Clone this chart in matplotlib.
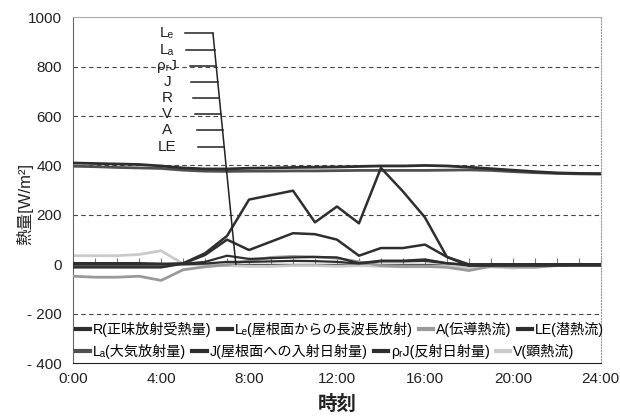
import matplotlib
matplotlib.use("Agg")
import matplotlib.pyplot as plt
import numpy as np

plt.rcParams['font.family'] = ['Liberation Sans', 'Noto Sans CJK JP', 'DejaVu Sans']

# 時刻 (0:00 ～ 24:00, 1時間ごと)
hours = np.arange(0, 25)

# 各熱量 [W/m2]
Le = [410, 408, 406, 404, 398, 390, 386, 386, 389, 390, 392, 393, 394,
      396, 398, 398, 400, 398, 393, 387, 381, 375, 370, 368, 367]
La = [397, 395, 392, 390, 388, 381, 377, 376, 377, 377, 378, 378, 379,
      380, 380, 380, 380, 381, 382, 380, 375, 371, 368, 366, 365]
J = [0, 0, 0, 0, 0, 4, 45, 115, 262, 280, 298, 170, 234,
     166, 390, 295, 190, 30, 0, 0, 0, 0, 0, 0, 0]
R = [-12, -12, -12, -12, -12, 3, 38, 100, 58, 92, 126, 122, 100,
     35, 66, 66, 80, 30, -5, -5, -5, -5, -5, -5, -5]
rhoJ = [0, 0, 0, 0, 0, 0, 3, 10, 10, 12, 14, 13, 10,
        3, 12, 12, 14, 4, 0, 0, 0, 0, 0, 0, 0]
LE = [5, 5, 5, 5, 3, 2, 10, 35, 22, 25, 28, 30, 28,
      5, 15, 15, 20, 5, -5, -3, 0, 0, 0, 0, 0]
A = [-48, -52, -52, -48, -65, -22, -10, -2, 15, 28, 32, 30, 25,
     10, -5, -8, -8, -12, -25, -8, -10, -12, -5, 0, 0]
V = [35, 35, 35, 40, 55, 2, -5, -5, -8, -8, -5, -5, -8,
     -5, -8, -10, -10, -5, -15, -10, -15, -8, 0, 0, 0]

dark = '#2e2e2e'
mid = '#505050'
gray = '#9a9a9a'
light = '#cacaca'

fig = plt.figure(figsize=(6.2, 4.18), dpi=100)
ax = fig.add_axes([0.118, 0.131, 0.851, 0.828])

ax.set_xlim(0, 24)
ax.set_ylim(-400, 1000)

# 破線の目盛線
for yv in [-200, 200, 400, 600, 800]:
    ax.axhline(yv, color='#444444', lw=0.8, ls=(0, (4, 3)), zorder=1)

# 0 の横軸と時刻の目盛
ax.axhline(0, color='#555555', lw=1.0, zorder=1)
ax.plot(hours, np.zeros(len(hours)), ls='none', marker=2, ms=4,
        mew=0.8, color='#777777', zorder=1)

lines = {}
lines['V'] = ax.plot(hours, V, color=light, lw=2.0, zorder=2)[0]
lines['A'] = ax.plot(hours, A, color=gray, lw=2.0, zorder=3)[0]
lines['LE'] = ax.plot(hours, LE, color=dark, lw=1.6, zorder=4)[0]
lines['rhoJ'] = ax.plot(hours, rhoJ, color=dark, lw=1.6, zorder=4)[0]
lines['La'] = ax.plot(hours, La, color=mid, lw=2.0, zorder=4)[0]
lines['Le'] = ax.plot(hours, Le, color=dark, lw=2.0, zorder=5)[0]
lines['J'] = ax.plot(hours, J, color=dark, lw=1.8, zorder=5)[0]
lines['R'] = ax.plot(hours, R, color=dark, lw=1.8, zorder=5)[0]

# 系列名の引き出し線
names = ['Lₑ', 'Lₐ', 'ρᵣJ', 'J', 'R', 'V', 'A', 'LE']
top = (6.36, 934)
foot = (7.4, 0)
ax.plot([top[0], foot[0]], [top[1], foot[1]], color='#222222', lw=1.1, zorder=6)
for i, name in enumerate(names):
    yv = 934 - i * 65.4
    xe = top[0] + (top[1] - yv) / top[1] * (foot[0] - top[0])
    xs = 5.1 + i * 0.02 if i < 2 else 5.3 + (i - 2) * 0.08
    ax.plot([xs, xe], [yv, yv], color='#222222', lw=1.1, zorder=6)
    ax.text(4.27, yv, name, ha='center', va='center', fontsize=11,
            color='#222222', zorder=6)

# 凡例 (2段)
row1 = [('R', 'R(正味放射受熱量)'), ('Le', 'Lₑ(屋根面からの長波長放射)'),
        ('A', 'A(伝導熱流)'), ('LE', 'LE(潜熱流)')]
row2 = [('La', 'Lₐ(大気放射量)'), ('J', 'J(屋根面への入射日射量)'),
        ('rhoJ', 'ρᵣJ(反射日射量)'), ('V', 'V(顕熱流)')]
legs = []
for row, yl in [(row1, 0.097), (row2, 0.033)]:
    hs = [plt.Line2D([], [], color=lines[k].get_color(), lw=3) for k, _ in row]
    leg = ax.legend(hs, [t for _, t in row], ncol=4, loc='center left',
                    bbox_to_anchor=(0.0, yl), frameon=False, fontsize=10.2,
                    handlelength=1.0, handletextpad=0.2, columnspacing=0.45,
                    borderpad=0, borderaxespad=0.2)
    legs.append(leg)
ax.add_artist(legs[0])

ax.set_xticks([0, 4, 8, 12, 16, 20, 24])
ax.set_xticklabels(['0:00', '4:00', '8:00', '12:00', '16:00', '20:00', '24:00'])
ax.set_yticks([-400, -200, 0, 200, 400, 600, 800, 1000])
ax.set_yticklabels(['- 400', '- 200', '0', '200', '400', '600', '800', '1000'])
ax.tick_params(axis='both', length=0, labelsize=11, colors='#222222')
ax.tick_params(axis='x', pad=6)
ax.tick_params(axis='y', pad=8)

ax.set_xlabel('時刻', fontsize=14, fontweight='bold', color='#222222')
ax.xaxis.set_label_coords(0.5, -0.092)
ax.set_ylabel('熱量[W/m²]', fontsize=12, color='#222222')
ax.yaxis.set_label_coords(-0.075, 0.46)

ax.spines['left'].set_color('#666666')
ax.spines['bottom'].set_color('#222222')
ax.spines['top'].set_color('#aaaaaa')
ax.spines['top'].set_linewidth(0.8)
ax.spines['right'].set_color('#999999')
ax.spines['right'].set_linestyle(':')

fig.savefig('out.png', dpi=100)
